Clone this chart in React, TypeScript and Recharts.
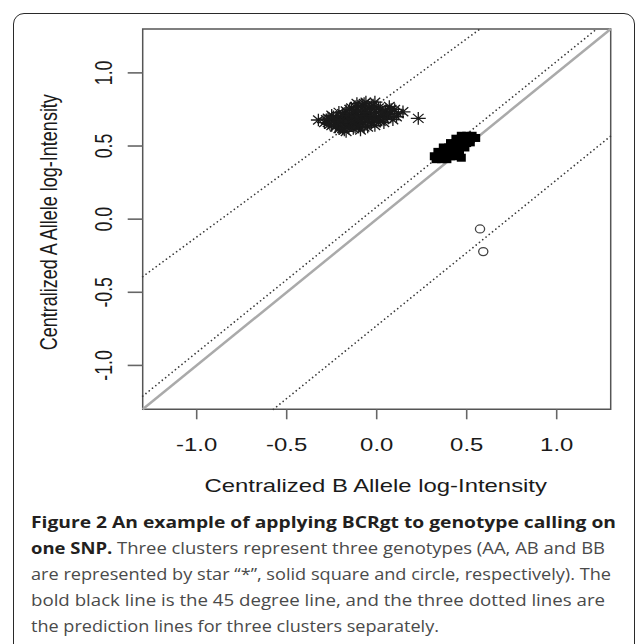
import React from "react";
import {
  ScatterChart,
  Scatter,
  XAxis,
  YAxis,
  ReferenceLine,
  ReferenceArea,
  Label,
} from "recharts";

// Genotype calling on one SNP: AA stars, AB squares, BB circles,
// 45 degree line plus three dotted prediction lines.

// ---------------------------------------------------------------------------
// Data
// ---------------------------------------------------------------------------

const AXIS_DOMAIN = [-1.3, 1.3];
const TICK_VALUES = [-1, -0.5, 0, 0.5, 1];
const TICK_LABELS = ["-1.0", "-0.5", "0.0", "0.5", "1.0"];

// AA cluster (star)
const aaPoints = [
  { x: -0.324, y: 0.678 }, { x: -0.29, y: 0.66 }, { x: -0.27, y: 0.69 },
  { x: -0.26, y: 0.65 }, { x: -0.25, y: 0.71 }, { x: -0.24, y: 0.67 },
  { x: -0.23, y: 0.63 }, { x: -0.22, y: 0.69 }, { x: -0.21, y: 0.73 },
  { x: -0.2, y: 0.66 }, { x: -0.19, y: 0.62 }, { x: -0.18, y: 0.7 },
  { x: -0.17, y: 0.6 }, { x: -0.17, y: 0.74 }, { x: -0.16, y: 0.67 },
  { x: -0.15, y: 0.64 }, { x: -0.14, y: 0.71 }, { x: -0.14, y: 0.76 },
  { x: -0.13, y: 0.62 }, { x: -0.12, y: 0.68 }, { x: -0.11, y: 0.73 },
  { x: -0.11, y: 0.65 }, { x: -0.1, y: 0.77 }, { x: -0.09, y: 0.7 },
  { x: -0.09, y: 0.61 }, { x: -0.08, y: 0.66 }, { x: -0.07, y: 0.74 },
  { x: -0.07, y: 0.79 }, { x: -0.06, y: 0.68 }, { x: -0.05, y: 0.63 },
  { x: -0.05, y: 0.72 }, { x: -0.04, y: 0.76 }, { x: -0.03, y: 0.66 },
  { x: -0.02, y: 0.7 }, { x: -0.02, y: 0.78 }, { x: -0.01, y: 0.64 },
  { x: 0.0, y: 0.73 }, { x: 0.01, y: 0.68 }, { x: 0.02, y: 0.75 },
  { x: 0.03, y: 0.71 }, { x: 0.04, y: 0.66 }, { x: 0.05, y: 0.74 },
  { x: 0.06, y: 0.7 }, { x: 0.07, y: 0.77 }, { x: 0.08, y: 0.72 },
  { x: 0.09, y: 0.68 }, { x: 0.1, y: 0.75 }, { x: 0.12, y: 0.72 },
  { x: 0.146, y: 0.734 }, { x: 0.231, y: 0.689 }, { x: -0.2, y: 0.7 },
  { x: -0.12, y: 0.66 }, { x: -0.04, y: 0.69 }, { x: 0.02, y: 0.67 },
  { x: -0.15, y: 0.69 }, { x: -0.08, y: 0.72 }, { x: -0.26, y: 0.68 },
  { x: -0.18, y: 0.65 }, { x: -0.1, y: 0.63 }, { x: -0.21, y: 0.62 },
  { x: -0.28, y: 0.68 }, { x: -0.27, y: 0.66 }, { x: -0.25, y: 0.64 },
  { x: -0.24, y: 0.7 }, { x: -0.23, y: 0.66 }, { x: -0.22, y: 0.64 },
  { x: -0.21, y: 0.67 }, { x: -0.2, y: 0.63 }, { x: -0.19, y: 0.68 },
  { x: -0.19, y: 0.72 }, { x: -0.18, y: 0.61 }, { x: -0.17, y: 0.67 },
  { x: -0.16, y: 0.71 }, { x: -0.16, y: 0.63 }, { x: -0.15, y: 0.75 },
  { x: -0.14, y: 0.66 }, { x: -0.13, y: 0.69 }, { x: -0.13, y: 0.73 },
  { x: -0.12, y: 0.63 }, { x: -0.12, y: 0.77 }, { x: -0.11, y: 0.7 },
  { x: -0.1, y: 0.67 }, { x: -0.1, y: 0.74 }, { x: -0.09, y: 0.65 },
  { x: -0.08, y: 0.69 }, { x: -0.08, y: 0.78 }, { x: -0.07, y: 0.63 },
  { x: -0.06, y: 0.71 }, { x: -0.06, y: 0.75 }, { x: -0.05, y: 0.67 },
  { x: -0.04, y: 0.73 }, { x: -0.03, y: 0.69 }, { x: -0.03, y: 0.77 },
  { x: -0.01, y: 0.71 }, { x: 0.0, y: 0.67 }, { x: 0.01, y: 0.76 },
  { x: 0.03, y: 0.73 }, { x: 0.04, y: 0.69 }, { x: 0.06, y: 0.72 },
  { x: 0.08, y: 0.75 }, { x: 0.11, y: 0.7 }, { x: -0.01, y: 0.8 },
  { x: -0.06, y: 0.8 }, { x: -0.11, y: 0.79 },
];

// AB cluster (solid square)
const abPoints = [
  { x: 0.47, y: 0.57 }, { x: 0.5, y: 0.57 }, { x: 0.53, y: 0.57 },
  { x: 0.44, y: 0.55 }, { x: 0.47, y: 0.55 }, { x: 0.5, y: 0.55 }, { x: 0.52, y: 0.55 }, { x: 0.55, y: 0.555 },
  { x: 0.41, y: 0.52 }, { x: 0.44, y: 0.52 }, { x: 0.47, y: 0.52 }, { x: 0.5, y: 0.52 }, { x: 0.52, y: 0.525 },
  { x: 0.37, y: 0.49 }, { x: 0.4, y: 0.49 }, { x: 0.43, y: 0.49 }, { x: 0.46, y: 0.49 }, { x: 0.49, y: 0.49 },
  { x: 0.34, y: 0.46 }, { x: 0.37, y: 0.46 }, { x: 0.4, y: 0.46 }, { x: 0.43, y: 0.46 }, { x: 0.46, y: 0.46 },
  { x: 0.32, y: 0.43 }, { x: 0.35, y: 0.43 }, { x: 0.38, y: 0.43 }, { x: 0.41, y: 0.43 }, { x: 0.44, y: 0.43 },
  { x: 0.33, y: 0.41 }, { x: 0.36, y: 0.41 }, { x: 0.39, y: 0.41 }, { x: 0.47, y: 0.42 },
];

// BB cluster (circle)
const bbPoints = [
  { x: 0.574, y: -0.067 },
  { x: 0.592, y: -0.222 },
];

// line end points
const diagonalLine = [{ x: -1.3, y: -1.3 }, { x: 1.3, y: 1.3 }];
const predictionAA = [{ x: -1.3, y: -0.393 }, { x: 0.574, y: 1.3 }];
const predictionAB = [{ x: -1.3, y: -1.21 }, { x: 1.222, y: 1.3 }];
const predictionBB = [{ x: -0.574, y: -1.3 }, { x: 1.3, y: 0.568 }];

const CAPTION_BOLD_1 = "Figure 2 An example of applying BCRgt to genotype calling on";
const CAPTION_BOLD_2 = "one SNP.";
const CAPTION_LINES = [
  " Three clusters represent three genotypes (AA, AB and BB",
  "are represented by star \u201c*\u201d, solid square and circle, respectively). The",
  "bold black line is the 45 degree line, and the three dotted lines are",
  "the prediction lines for three clusters separately.",
];

// ---------------------------------------------------------------------------
// Styles
// ---------------------------------------------------------------------------

const AXIS_FONT = "'Liberation Sans', Arial, sans-serif";
const TEXT_STRETCH = 1.35;
const INK = "#1a1a1a";

// ---------------------------------------------------------------------------
// Shapes / ticks
// ---------------------------------------------------------------------------

function StarShape({ cx, cy }: any) {
  if (cx == null || cy == null) return null;
  const d =
    `M${cx - 7.5},${cy} L${cx + 7.5},${cy} ` +
    `M${cx},${cy - 6.3} L${cx},${cy + 6.3} ` +
    `M${cx - 5.3},${cy - 4.5} L${cx + 5.3},${cy + 4.5} ` +
    `M${cx - 5.3},${cy + 4.5} L${cx + 5.3},${cy - 4.5}`;
  return <path d={d} stroke="#1a1a1a" strokeWidth={1.3} fill="none" />;
}

function SquareShape({ cx, cy }: any) {
  if (cx == null || cy == null) return null;
  return <rect x={cx - 4.5} y={cy - 4} width={9} height={8} fill="#000" />;
}

function CircleShape({ cx, cy }: any) {
  if (cx == null || cy == null) return null;
  return <ellipse cx={cx} cy={cy} rx={4.6} ry={4} fill="none" stroke="#444" strokeWidth={1.3} />;
}

function tickText(value: number) {
  const i = TICK_VALUES.indexOf(value);
  return i >= 0 ? TICK_LABELS[i] : String(value);
}

function XTick({ x, y, payload }: any) {
  return (
    <text
      transform={`translate(${x},${y + 30}) scale(${TEXT_STRETCH},1)`}
      textAnchor="middle"
      fontFamily={AXIS_FONT}
      fontSize={17.7}
      fill={INK}
    >
      {tickText(payload.value)}
    </text>
  );
}

function YTick({ x, y, payload }: any) {
  return (
    <text
      transform={`translate(${x - 14},${y}) scale(${TEXT_STRETCH},1) rotate(-90)`}
      textAnchor="middle"
      fontFamily={AXIS_FONT}
      fontSize={17.7}
      fill={INK}
    >
      {tickText(payload.value)}
    </text>
  );
}

function XTitle({ viewBox }: any) {
  const cx = viewBox.x + viewBox.width / 2 - 1;
  return (
    <text
      transform={`translate(${cx},${viewBox.y + 82.4}) scale(${TEXT_STRETCH},1)`}
      textAnchor="middle"
      fontFamily={AXIS_FONT}
      fontSize={17.7}
      fill={INK}
    >
      Centralized B Allele log-Intensity
    </text>
  );
}

function YTitle({ viewBox }: any) {
  const cy = viewBox.y + viewBox.height / 2 + 3;
  return (
    <text
      transform={`translate(57,${cy}) scale(${TEXT_STRETCH},1) rotate(-90)`}
      textAnchor="middle"
      fontFamily={AXIS_FONT}
      fontSize={18}
      fill={INK}
    >
      Centralized A Allele log-Intensity
    </text>
  );
}

const dotted = { stroke: "#3a3a3a", strokeWidth: 1.7, strokeDasharray: "0.01 4.2", strokeLinecap: "round" as const };

// ---------------------------------------------------------------------------
// App
// ---------------------------------------------------------------------------

export default function App() {
  const captionBaselines = [527.7, 553.5, 580, 606, 632.3];
  return (
    <div style={{ position: "absolute", left: 0, top: 0, width: 635, height: 644, overflow: "hidden", background: "#fff" }}>
      <div
        style={{
          position: "absolute",
          left: 13,
          top: 13,
          width: 620,
          height: 700,
          border: "1.4px solid #2a2a2a",
          borderRadius: 11,
        }}
      />
      <div style={{ position: "absolute", left: 0, top: 0 }}>
        <ScatterChart width={635} height={500} margin={{ top: 29, right: 24.3, bottom: 0, left: 0 }}>
          <XAxis
            type="number"
            dataKey="x"
            domain={AXIS_DOMAIN}
            ticks={TICK_VALUES}
            allowDataOverflow
            height={90.7}
            axisLine={false}
            tickSize={10}
            tickLine={{ stroke: "#666", strokeWidth: 1.6 }}
            tick={<XTick />}
          >
            <Label content={<XTitle />} />
          </XAxis>
          <YAxis
            type="number"
            dataKey="y"
            domain={AXIS_DOMAIN}
            ticks={TICK_VALUES}
            allowDataOverflow
            width={142.7}
            axisLine={false}
            tickSize={15}
            tickLine={{ stroke: "#666", strokeWidth: 1.6 }}
            tick={<YTick />}
          >
            <Label content={<YTitle />} />
          </YAxis>
          <ReferenceArea
            x1={-1.3}
            x2={1.3}
            y1={-1.3}
            y2={1.3}
            fill="none"
            stroke="#555"
            strokeWidth={1.5}
            ifOverflow="visible"
          />
          <Scatter data={aaPoints} shape={<StarShape />} isAnimationActive={false} />
          <Scatter data={abPoints} shape={<SquareShape />} isAnimationActive={false} />
          <Scatter data={bbPoints} shape={<CircleShape />} isAnimationActive={false} />
          <ReferenceLine segment={diagonalLine} stroke="#aaa" strokeWidth={2.5} ifOverflow="visible" />
          <ReferenceLine segment={predictionAA} {...dotted} ifOverflow="visible" />
          <ReferenceLine segment={predictionAB} {...dotted} ifOverflow="visible" />
          <ReferenceLine segment={predictionBB} {...dotted} ifOverflow="visible" />
        </ScatterChart>
      </div>
      <svg width={635} height={644} style={{ position: "absolute", left: 0, top: 0 }}>
        <g fontFamily="'Open Sans', 'Noto Sans', sans-serif" fontSize={16}>
          <text x={31} y={captionBaselines[0]} fill="#231f20" fontWeight={700} textLength={585} lengthAdjust="spacingAndGlyphs">
            {CAPTION_BOLD_1}
          </text>
          <text x={31} y={captionBaselines[1]} textLength={574} lengthAdjust="spacingAndGlyphs">
            <tspan fill="#231f20" fontWeight={700}>{CAPTION_BOLD_2}</tspan>
            <tspan fill="#4a4a4a">{CAPTION_LINES[0]}</tspan>
          </text>
          <text x={31} y={captionBaselines[2]} fill="#4a4a4a" textLength={580} lengthAdjust="spacingAndGlyphs">
            {CAPTION_LINES[1]}
          </text>
          <text x={31} y={captionBaselines[3]} fill="#4a4a4a" textLength={574} lengthAdjust="spacingAndGlyphs">
            {CAPTION_LINES[2]}
          </text>
          <text x={31} y={captionBaselines[4]} fill="#4a4a4a" textLength={408} lengthAdjust="spacingAndGlyphs">
            {CAPTION_LINES[3]}
          </text>
        </g>
      </svg>
    </div>
  );
}
